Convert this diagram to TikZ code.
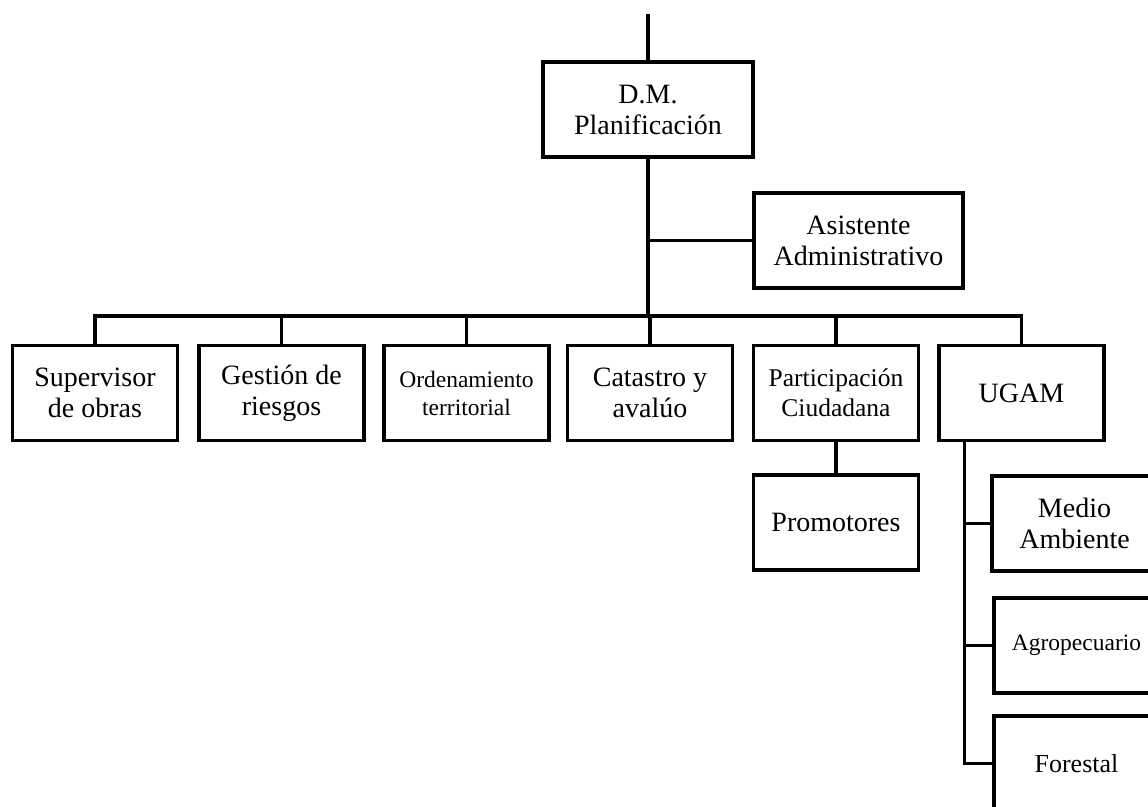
\documentclass[tikz,border=0pt]{standalone}
\usepackage{fontspec}
\setmainfont{Liberation Serif}
\usepackage{xcolor}

\begin{document}
\begin{tikzpicture}[x=1pt, y=-1pt, line width=3.3pt,
    box/.style={draw, line width=3.6pt, minimum width=165pt, minimum height=95pt,
        align=center, inner sep=0pt, font=\fontsize{28}{31}\selectfont},
    smallbox/.style={box, font=\fontsize{23.5}{28}\selectfont}]
    \useasboundingbox (0,0) rectangle (1148,806);

    % Head and staff
    \node[box, minimum width=210pt] (dm) at (648,109.5) {D.M.\\Planificación};
    \node[box, minimum width=209pt] (asis) at (858.5,240.5) {Asistente\\Administrativo};
    \coordinate (top) at (648,14);
    \coordinate (bus) at (648,316);

    % Units
    \node[box] (sup) at (95,393) {Supervisor\\de obras};
    \node[box] (gest) at (281.5,393) {Gestión de\\riesgos};
    \node[smallbox] (orden) at (466.5,393) {Ordenamiento\\territorial};
    \node[box] (cat) at (650,393) {Catastro y\\avalúo};
    \node[box, font=\fontsize{25.5}{30}\selectfont] (part) at (836,393) {Participación\\Ciudadana};
    \node[box] (ugam) at (1021.5,393) {UGAM};

    % Sub-units
    \node[box] (prom) at (836,522.5) {Promotores};
    \node[box] (medio) at (1074.5,523.5) {Medio\\Ambiente};
    \node[smallbox] (agro) at (1076.5,645.5) {Agropecuario};
    \node[box, font=\fontsize{26}{30}\selectfont] (forest) at (1076.5,763.5) {Forestal};
    \coordinate (spine) at ([xshift=27pt]ugam.south west);

    \draw (top) -- (dm.north);
    \draw (dm.south) -- (bus);
    \draw (asis.west) -- (asis.west -| dm.south);
    \draw (sup.north) |- (bus) -| (ugam.north);
    \foreach \n in {gest,orden,cat,part}
        \draw (\n.north) -- (\n.north |- bus);
    \draw (part.south) -- (prom.north);
    \draw (spine) |- (forest.west);
    \draw (medio.west) -- (medio.west -| spine);
    \draw (agro.west) -- (agro.west -| spine);

\end{tikzpicture}
\end{document}
